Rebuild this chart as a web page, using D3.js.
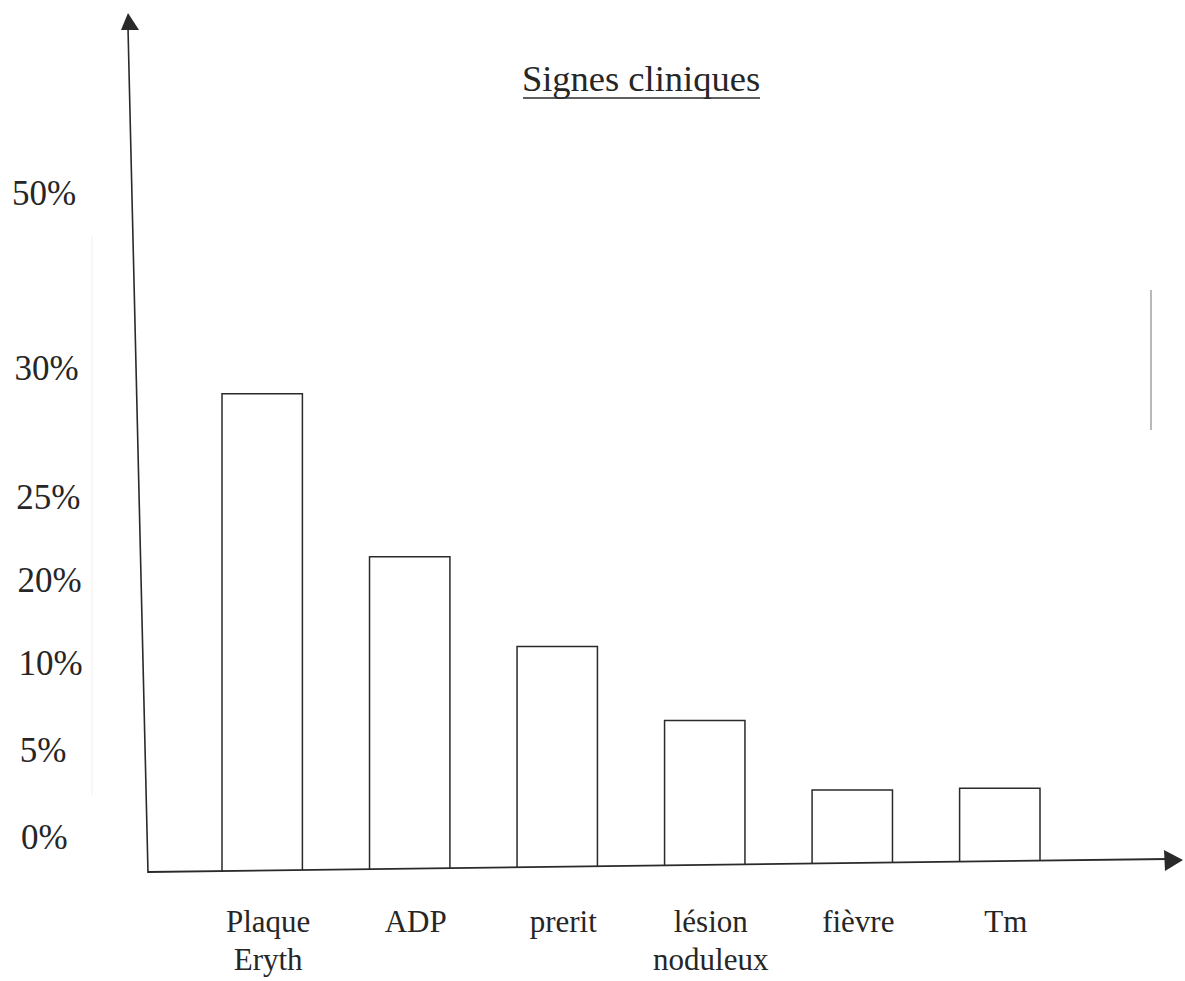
<!DOCTYPE html>
<html><head><meta charset="utf-8">
<script src="https://cdn.jsdelivr.net/npm/d3@7/dist/d3.min.js"></script>
<style>
html,body{margin:0;padding:0;background:#fff;}
svg{display:block;}
svg text{font-family:"Liberation Serif","Times New Roman",Times,serif;fill:#262626;}
</style></head>
<body>
<svg id="chart" width="1185" height="981"></svg>
<script>
// Data
const categories = [["Plaque","Eryth"],["ADP"],["prerit"],["lésion","noduleux"],["fièvre"],["Tm"]];
const values = [29.0, 21.4, 12.0, 6.7, 2.7, 2.8];
const tickValues = [0, 5, 10, 20, 25, 30, 50];
const tickLabels = ["0%", "5%", "10%", "20%", "25%", "30%", "50%"];
const title = "Signes cliniques";

const svg = d3.select("#chart");

// Hand-drawn, non-linear axis: piecewise linear scale through the printed ticks
const y = d3.scaleLinear()
  .domain(tickValues)
  .range([837, 750, 663, 580, 497, 368, 193]);

const x = d3.scaleBand()
  .domain(d3.range(categories.length))
  .range([222, 1040])
  .paddingInner(0.455)
  .paddingOuter(0);

// baseline of the (slightly tilted) x axis
const axisStart = [148, 872], axisEnd = [1168, 859];
const baseAt = px => axisStart[1] + (px - axisStart[0]) * (axisEnd[1] - axisStart[1]) / (axisEnd[0] - axisStart[0]);

const ink = "#2a2a2a";

// Scan artifacts
svg.append("line").attr("x1",1151).attr("y1",290).attr("x2",1151).attr("y2",430)
  .attr("stroke","#8a8a8a").attr("stroke-width",1.2);
svg.append("line").attr("x1",92).attr("y1",235).attr("x2",92).attr("y2",795)
  .attr("stroke","#f0f0f0").attr("stroke-width",1);

// Title
svg.append("text").attr("x",641).attr("y",91).attr("text-anchor","middle")
  .attr("font-size",36.5).text(title);
svg.append("line").attr("x1",523).attr("x2",760).attr("y1",98).attr("y2",98)
  .attr("stroke",ink).attr("stroke-width",1.6);

// Y axis (slightly slanted as in the scan)
svg.append("line").attr("x1",128).attr("y1",28).attr("x2",148).attr("y2",873)
  .attr("stroke",ink).attr("stroke-width",1.6);
svg.append("path").attr("d","M128,13 L139,30 L121,30 Z").attr("fill",ink);

// X axis
svg.append("line").attr("x1",axisStart[0]).attr("y1",axisStart[1]).attr("x2",axisEnd[0]).attr("y2",axisEnd[1])
  .attr("stroke",ink).attr("stroke-width",1.8);
svg.append("path").attr("d","M1183,860 L1164,850 L1165,871 Z").attr("fill",ink);

// Tick labels
svg.append("g").selectAll("text").data(tickValues).join("text")
  .attr("x",d=> 12 + (y(50)-y(d))*-0.014)
  .attr("y",d=>y(d))
  .attr("dy","0.35em")
  .attr("font-size",35)
  .text((d,i)=>tickLabels[i]);

// Bars
svg.append("g").selectAll("path").data(values).join("path")
  .attr("d",(d,i)=>{
    const x0 = x(i), x1 = x(i)+x.bandwidth();
    const top = y(d);
    return `M${x0},${baseAt(x0)} L${x0},${top} L${x1},${top} L${x1},${baseAt(x1)}`;
  })
  .attr("fill","none").attr("stroke",ink).attr("stroke-width",1.5);

// Category labels
const lab = svg.append("g").selectAll("text").data(categories).join("text")
  .attr("x",(d,i)=>x(i)+x.bandwidth()/2+6)
  .attr("y",932)
  .attr("text-anchor","middle")
  .attr("font-size",31);
lab.selectAll("tspan").data(d=>d).join("tspan")
  .attr("x",function(){return this.parentNode.getAttribute("x");})
  .attr("dy",(d,i)=> i===0 ? 0 : 38)
  .text(d=>d);
</script>
</body></html>
